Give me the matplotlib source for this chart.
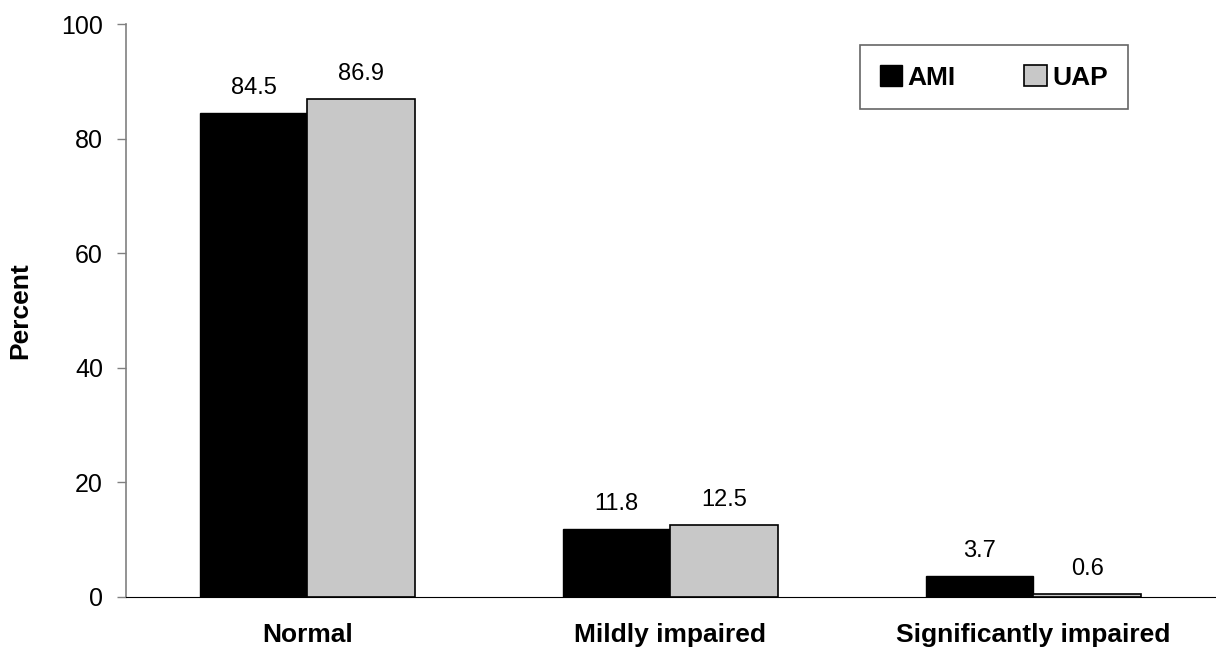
import numpy as np
import matplotlib
matplotlib.use('Agg')
import matplotlib.pyplot as plt

categories = ['Normal', 'Mildly impaired', 'Significantly impaired']
ami = [84.5, 11.8, 3.7]
uap = [86.9, 12.5, 0.6]
yticks = [0, 20, 40, 60, 80, 100]

plt.rcParams['font.family'] = ['Liberation Sans', 'DejaVu Sans']

fig = plt.figure(figsize=(12.16, 6.5), dpi=100)
ax = fig.add_axes([126 / 1216, 1 - 597 / 650, 1 - 126 / 1216 - 0.001, (597 - 24) / 650])

x = np.arange(len(categories))
w = 0.297
b1 = ax.bar(x - w / 2, ami, w, color='black', edgecolor='black', linewidth=1, label='AMI')
b2 = ax.bar(x + w / 2, uap, w, color='#c8c8c8', edgecolor='black', linewidth=1.2, label='UAP')

for bars, vals in ((b1, ami), (b2, uap)):
    for r, v in zip(bars, vals):
        ax.annotate(f'{v:.1f}', (r.get_x() + r.get_width() / 2, v),
                    xytext=(0, 18), textcoords='offset points',
                    ha='center', va='center', fontsize=17)

ax.set_xlim(-0.5, 2.5)
ax.set_ylim(0, 100)
ax.set_yticks(yticks)
ax.set_xticks(x)
ax.set_xticklabels(categories, fontsize=19, fontweight='bold')
ax.tick_params(axis='x', length=0, pad=19)
ax.tick_params(axis='y', length=6.5, width=1, color='#808080', labelsize=18, pad=10, direction='out')
ax.spines['top'].set_visible(False)
ax.spines['right'].set_visible(False)
ax.spines['left'].set_color('#808080')
ax.spines['left'].set_linewidth(1.2)
ax.spines['bottom'].set_color('black')
ax.set_ylabel('Percent', fontsize=19, fontweight='bold')
ax.yaxis.set_label_coords(-0.086, 0.5)

leg = ax.legend(ncol=2, loc='upper right', bbox_to_anchor=(0.92, 0.963), borderaxespad=0,
                prop={'weight': 'bold', 'size': 19}, handlelength=0.85, handleheight=0.85,
                handletextpad=0.2, columnspacing=2.6, borderpad=0.75, fancybox=False)
leg.get_frame().set_edgecolor('#404040')
leg.get_frame().set_linewidth(1.2)

fig.savefig('out.png', dpi=100)
